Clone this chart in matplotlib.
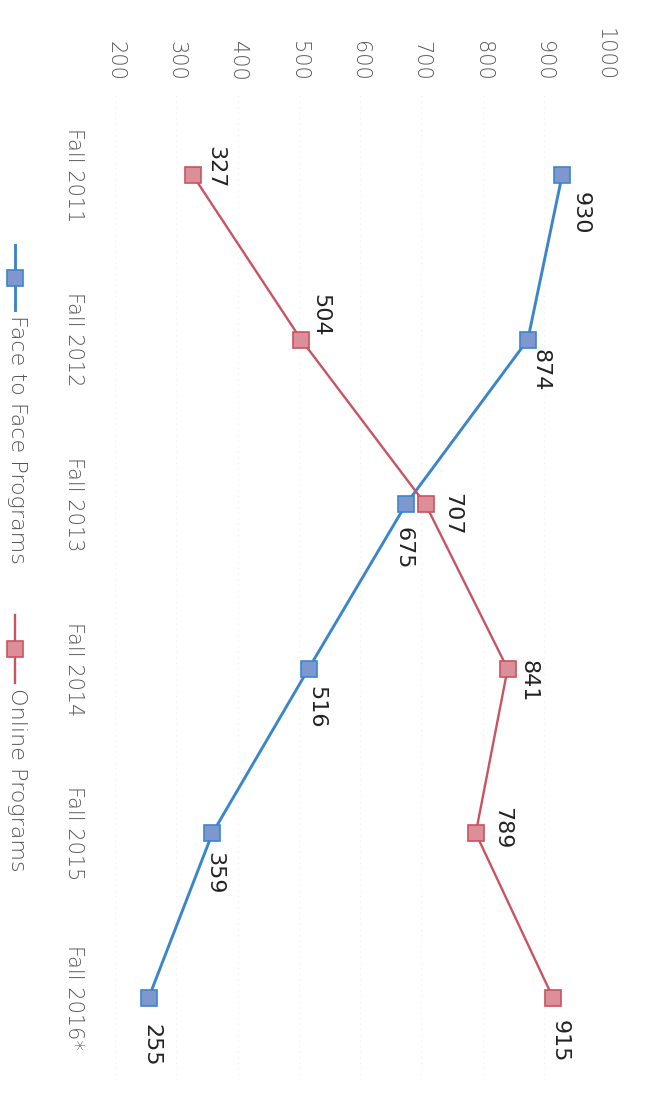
import matplotlib

matplotlib.use("Agg")
import matplotlib.pyplot as plt
from matplotlib.lines import Line2D

# Enrollment by term, face-to-face vs online.
terms = ["Fall 2011", "Fall 2012", "Fall 2013", "Fall 2014", "Fall 2015", "Fall 2016*"]
face_to_face = [930, 874, 675, 516, 359, 255]
online = [327, 504, 707, 841, 789, 915]
value_ticks = [200, 300, 400, 500, 600, 700, 800, 900, 1000]

# The page is printed sideways: values run left->right, terms run top->bottom,
# and all text is turned a quarter turn clockwise.
ROT = -90
BLUE = "#3b86c9"
BLUE_FILL = "#7f97cf"
RED = "#c9535f"
RED_FILL = "#dc8f98"
TICK_GRAY = "#555555"
LABEL_INK = "#222222"

# Per-point label offsets in pixels (right, down) on the sideways page.
face_offsets = [(18, 38), (13, 30), (-2, 44), (8, 38), (2, 40), (3, 48)]
online_offsets = [(22, -8), (19, -24), (27, 10), (21, 12), (26, -5), (7, 44)]

fig = plt.figure(figsize=(6.5, 11.08), dpi=100)
ax = fig.add_axes([115 / 650, 1 - 1080 / 1108, 490 / 650, 987 / 1108])

pos = list(range(len(terms)))
ax.plot(face_to_face, pos, "-", color=BLUE, lw=2.1, marker="s", ms=11,
        mfc=BLUE_FILL, mec=BLUE, mew=1.2, zorder=3)
ax.plot(online, pos, "-", color=RED, lw=1.7, marker="s", ms=11,
        mfc=RED_FILL, mec=RED, mew=1.2, zorder=3)

px = 72 / fig.dpi  # pixel -> point


def label_points(values, offsets):
    for v, y, (dx, dy) in zip(values, pos, offsets):
        ax.annotate(f"{v}", (v, y), xytext=(dx * px, -dy * px), textcoords="offset points",
                    rotation=ROT, ha="center", va="center", fontsize=16,
                    color=LABEL_INK, zorder=5)


label_points(face_to_face, face_offsets)
label_points(online, online_offsets)

ax.set_xlim(200, 1000)
ax.set_ylim(len(terms) - 0.5, -0.5)

ax.xaxis.tick_top()
ax.set_xticks(value_ticks)
ax.set_xticklabels([str(v) for v in value_ticks], rotation=ROT, ha="center", va="bottom",
                   fontsize=15, color=TICK_GRAY, fontweight="light")
ax.set_yticks(pos)
ax.set_yticklabels(terms, rotation=ROT, ha="right", va="center",
                   fontsize=15, color=TICK_GRAY, fontweight="light")
ax.tick_params(axis="x", length=0, pad=9)
ax.tick_params(axis="y", length=0, pad=22)

ax.grid(axis="x", color="#eeeeee", lw=0.8, ls=(0, (1, 4)), zorder=0)
for s in ax.spines.values():
    s.set_visible(False)


# Legend, drawn by hand so it can sit sideways down the left margin.
def legend_entry(y_top, y_bot, color, fill, lw, text):
    def fy(y):
        return 1 - y / 1108

    fx = 15 / 650
    fig.add_artist(Line2D([fx, fx], [fy(y_top), fy(y_bot)], color=color, lw=lw,
                          transform=fig.transFigure))
    fig.add_artist(Line2D([fx], [fy((y_top + y_bot) / 2)], marker="s", ms=11, mfc=fill,
                          mec=color, mew=1.2, transform=fig.transFigure))
    fig.text(17 / 650, fy(y_bot + 5), text, rotation=ROT, ha="center", va="top",
             fontsize=16, color=TICK_GRAY, fontweight="light")


legend_entry(245, 310, BLUE, BLUE_FILL, 2.1, "Face to Face Programs")
legend_entry(615, 683, RED, RED_FILL, 1.7, "Online Programs")

fig.savefig("out.png", dpi=100, facecolor="white")
